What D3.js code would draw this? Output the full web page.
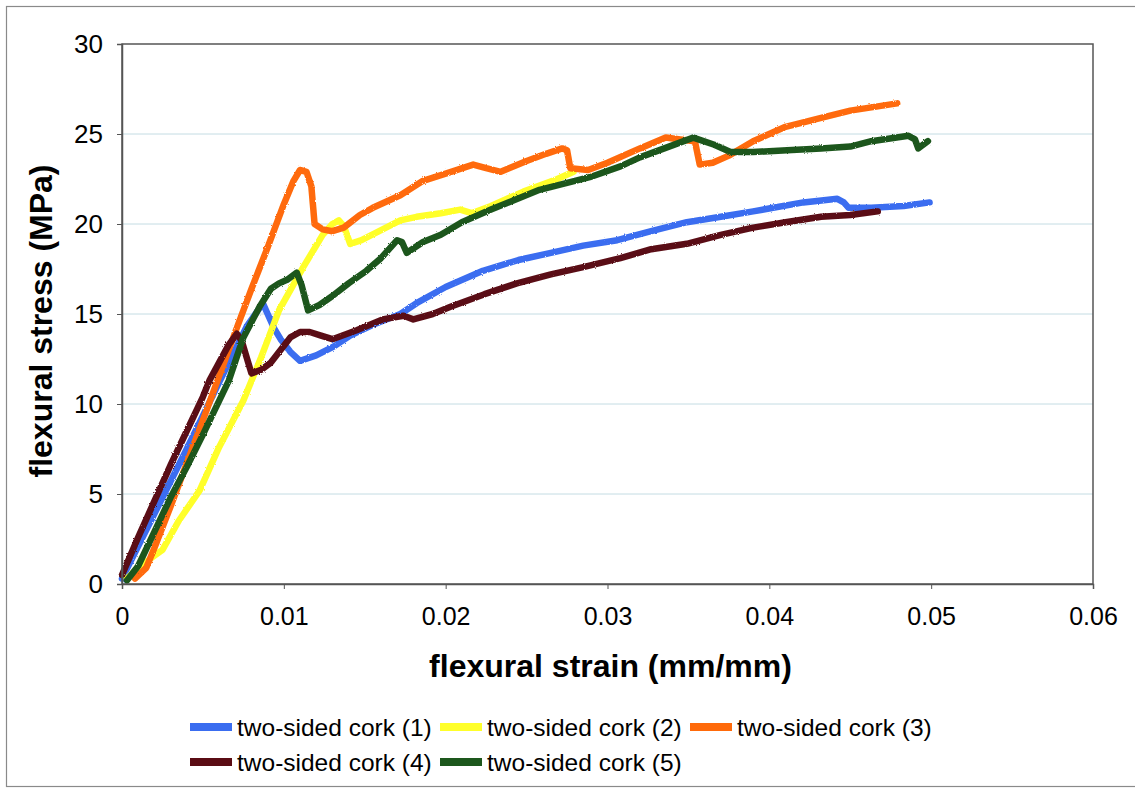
<!DOCTYPE html>
<html><head><meta charset="utf-8">
<script src="https://cdn.jsdelivr.net/npm/d3@7/dist/d3.min.js"></script>
<style>
body{margin:0;background:#fff;}
svg text{font-family:"Liberation Sans",Arial,Helvetica,sans-serif;fill:#000;}
</style></head>
<body>
<svg id="chart" width="1135" height="792"></svg>
<script>
// ---- data (strain mm/mm, stress MPa) ----
const seriesNames = ["two-sided cork (1)","two-sided cork (2)","two-sided cork (3)","two-sided cork (4)","two-sided cork (5)"];
const seriesColors = ["#3a6df0","#ffff2a","#ff6a0a","#5a0c14","#1d571d"];
const xTicks = [0,0.01,0.02,0.03,0.04,0.05,0.06];
const xTickLabels = ["0","0.01","0.02","0.03","0.04","0.05","0.06"];
const yTicks = [0,5,10,15,20,25,30];
const yTickLabels = ["0","5","10","15","20","25","30"];

const cork1 = [[0,0.3],[0.002,3.9],[0.004,7.5],[0.006,11.2],[0.0077,14.3],[0.0084,15.2],[0.0087,15.6],[0.0090,15.0],[0.0094,14.2],[0.0098,13.6],[0.0104,12.9],[0.011,12.4],[0.012,12.7],[0.0131,13.2],[0.0141,13.8],[0.0155,14.4],[0.0172,15.0],[0.0182,15.6],[0.020,16.5],[0.0223,17.4],[0.0245,18.0],[0.0265,18.4],[0.0285,18.8],[0.0306,19.1],[0.0327,19.6],[0.0349,20.1],[0.037,20.4],[0.039,20.7],[0.0421,21.2],[0.0442,21.4],[0.0446,21.2],[0.0449,20.9],[0.0463,20.9],[0.0483,21.0],[0.0499,21.2]];
const cork2 = [[0.0003,0.3],[0.001,0.9],[0.0019,1.5],[0.0025,1.9],[0.0035,3.5],[0.0048,5.2],[0.006,7.6],[0.0075,10.2],[0.0086,12.6],[0.0097,15.2],[0.0112,17.6],[0.0124,19.4],[0.013,20.0],[0.0134,20.2],[0.0137,19.9],[0.0141,18.9],[0.0148,19.1],[0.0161,19.7],[0.0172,20.2],[0.0182,20.4],[0.0197,20.6],[0.0209,20.8],[0.0216,20.6],[0.0228,21.0],[0.0248,21.8],[0.0269,22.5],[0.0279,22.9]];
const cork3 = [[0.0008,0.3],[0.0015,0.9],[0.002,2.0],[0.003,4.3],[0.004,6.7],[0.005,9.1],[0.0059,11.3],[0.007,14.0],[0.008,16.4],[0.009,18.7],[0.010,21.1],[0.0106,22.4],[0.011,23.0],[0.0114,22.9],[0.0117,22.1],[0.0119,20.0],[0.0124,19.7],[0.013,19.6],[0.0137,19.8],[0.0147,20.5],[0.0155,20.9],[0.0172,21.6],[0.0186,22.4],[0.0200,22.8],[0.0217,23.3],[0.0225,23.1],[0.0234,22.9],[0.025,23.5],[0.0262,23.9],[0.0272,24.2],[0.0275,24.1],[0.0277,23.1],[0.0288,23.0],[0.030,23.4],[0.032,24.2],[0.0336,24.8],[0.0345,24.7],[0.0354,24.6],[0.0357,23.3],[0.0365,23.4],[0.0375,23.8],[0.039,24.6],[0.041,25.4],[0.0432,25.9],[0.045,26.3],[0.0479,26.7]];
const cork4 = [[0,0.5],[0.001,2.6],[0.002,4.6],[0.003,6.6],[0.004,8.5],[0.005,10.4],[0.0054,11.3],[0.006,12.3],[0.0066,13.3],[0.0071,13.9],[0.0074,13.5],[0.0077,12.6],[0.008,11.7],[0.0086,11.9],[0.0092,12.3],[0.0098,13.0],[0.0104,13.7],[0.011,14.0],[0.0116,14.0],[0.0123,13.8],[0.013,13.6],[0.0145,14.1],[0.0161,14.7],[0.0174,14.9],[0.018,14.7],[0.0192,15.0],[0.0203,15.4],[0.0224,16.1],[0.0244,16.7],[0.0265,17.2],[0.0285,17.6],[0.0308,18.1],[0.0327,18.6],[0.0349,18.9],[0.037,19.4],[0.039,19.8],[0.041,20.1],[0.0432,20.4],[0.045,20.5],[0.0467,20.7]];
const cork5 = [[0.0003,0.2],[0.001,1.0],[0.002,2.9],[0.003,4.8],[0.004,6.5],[0.005,8.3],[0.0066,11.3],[0.0075,13.7],[0.0085,15.4],[0.0092,16.4],[0.0097,16.7],[0.0102,16.9],[0.0108,17.3],[0.0111,16.6],[0.0115,15.2],[0.0122,15.5],[0.013,16.0],[0.014,16.7],[0.0151,17.4],[0.016,18.1],[0.017,19.1],[0.0173,19.0],[0.0176,18.4],[0.0186,19.0],[0.0197,19.4],[0.021,20.1],[0.0228,20.8],[0.0258,21.9],[0.0289,22.6],[0.0308,23.2],[0.032,23.7],[0.0338,24.3],[0.0353,24.8],[0.0366,24.4],[0.0376,24.0],[0.039,24.0],[0.0411,24.1],[0.0432,24.2],[0.045,24.3],[0.0463,24.6],[0.0486,24.9],[0.049,24.7],[0.0492,24.2],[0.0498,24.6]];
const seriesData = [cork1,cork2,cork3,cork4,cork5];

// ---- layout ----
const svg = d3.select("#chart");
const L = 122, R = 1093, T = 44, B = 584;
const x = d3.scaleLinear().domain([0,0.06]).range([L,R]);
const y = d3.scaleLinear().domain([0,30]).range([B,T]);

// outer frame
svg.append("rect").attr("x",6.5).attr("y",6.5).attr("width",1140).attr("height",780)
  .attr("fill","none").attr("stroke","#8a8a8a").attr("stroke-width",1.2);

// gridlines
svg.append("g").selectAll("line").data(yTicks.filter(d=>d>0 && d<30)).join("line")
  .attr("x1",L).attr("x2",R).attr("y1",d=>y(d)).attr("y2",d=>y(d))
  .attr("stroke","#c4dce3").attr("stroke-width",1);

// filter for scanned, slightly jagged strokes
const defs = svg.append("defs");
const f = defs.append("filter").attr("id","rough").attr("x","-5%").attr("y","-5%").attr("width","110%").attr("height","110%");
f.append("feTurbulence").attr("type","fractalNoise").attr("baseFrequency",0.9).attr("numOctaves",1).attr("seed",3).attr("result","n");
f.append("feDisplacementMap").attr("in","SourceGraphic").attr("in2","n").attr("scale",2.5);

// series lines
const line = d3.line().x(d=>x(d[0])).y(d=>y(d[1])).curve(d3.curveLinear);
svg.append("g").attr("filter","url(#rough)").selectAll("path").data(seriesData).join("path")
  .attr("d",line).attr("fill","none")
  .attr("stroke",(d,i)=>seriesColors[i]).attr("stroke-width",6.5)
  .attr("stroke-linejoin","round").attr("stroke-linecap","round");

// plot border
svg.append("rect").attr("x",L).attr("y",T).attr("width",R-L).attr("height",B-T)
  .attr("fill","none").attr("stroke","#555").attr("stroke-width",1.5);

// axes
const xAxis = d3.axisBottom(x).tickValues(xTicks).tickFormat((d,i)=>xTickLabels[i]).tickSize(5).tickPadding(18);
const gx = svg.append("g").attr("transform",`translate(0,${B})`).call(xAxis);
gx.select(".domain").attr("stroke","#555").attr("stroke-width",1.5);
gx.selectAll(".tick line").attr("stroke","#555");
gx.selectAll("text").attr("font-size",25).attr("font-family","Liberation Sans, Arial, sans-serif").attr("fill","#000");

const yAxis = d3.axisLeft(y).tickValues(yTicks).tickFormat((d,i)=>yTickLabels[i]).tickSize(5).tickPadding(14);
const gy = svg.append("g").attr("transform",`translate(${L},0)`).call(yAxis);
gy.select(".domain").attr("stroke","#555").attr("stroke-width",1.5);
gy.selectAll(".tick line").attr("stroke","#555");
gy.selectAll("text").attr("font-size",26).attr("font-family","Liberation Sans, Arial, sans-serif").attr("fill","#000");

// axis titles
svg.append("text").attr("x",(L+R)/2+3).attr("y",677).attr("text-anchor","middle")
  .attr("font-size",32).attr("font-weight","bold").text("flexural strain (mm/mm)");
svg.append("text").attr("transform",`translate(52,${(T+B)/2+7}) rotate(-90)`).attr("text-anchor","middle")
  .attr("font-size",32).attr("font-weight","bold").text("flexural stress (MPa)");

// legend
const legCols = [190,440,690], legRows = [727,762];
const leg = svg.append("g").selectAll("g").data(seriesNames).join("g")
  .attr("transform",(d,i)=>`translate(${legCols[i%3]},${legRows[Math.floor(i/3)]})`);
leg.append("rect").attr("x",0).attr("y",-4).attr("width",42).attr("height",8).attr("fill",(d,i)=>seriesColors[i]);
leg.append("text").attr("x",47).attr("y",9).attr("font-size",24.5).text(d=>d);
</script>
</body></html>
